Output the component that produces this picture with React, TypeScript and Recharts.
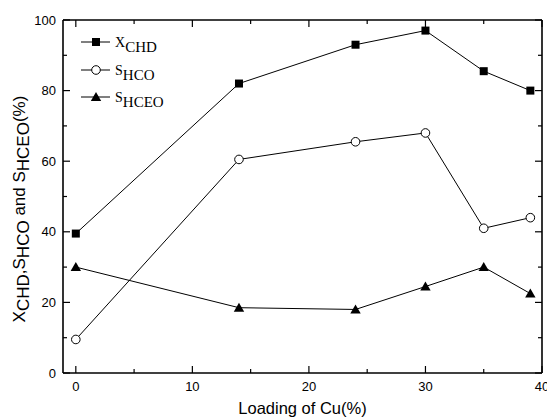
import React from 'react';
import { LineChart, Line, XAxis, YAxis } from 'recharts';

const loadings = [0, 14, 24, 30, 35, 39];
const xCHD = [39.5, 82, 93, 97, 85.5, 80];
const sHCO = [9.5, 60.5, 65.5, 68, 41, 44];
const sHCEO = [30, 18.5, 18, 24.5, 30, 22.5];

const xTicks = [0, 5, 10, 15, 20, 25, 30, 35, 40];
const yTicks = [0, 10, 20, 30, 40, 50, 60, 70, 80, 90, 100];
const xLabeled = [0, 10, 20, 30, 40];
const yLabeled = [0, 20, 40, 60, 80, 100];

const xTitle = 'Loading of Cu(%)';

const data = loadings.map((l, i) => ({ loading: l, xCHD: xCHD[i], sHCO: sHCO[i], sHCEO: sHCEO[i] }));

const SANS = '"Liberation Sans", Arial, sans-serif';
const SERIF = '"Liberation Serif", "Times New Roman", serif';

const BottomTick = (p: any) => {
  const v = p.payload.value;
  const major = xLabeled.includes(v);
  return (
    <g>
      <line x1={p.x} y1={p.y} x2={p.x} y2={p.y - (major ? 7 : 4)} stroke="#000" strokeWidth={1.2} />
      {major && (
        <text x={p.x} y={p.y + 18} textAnchor="middle" fontSize={13} fontFamily={SANS} fill="#000">
          {v}
        </text>
      )}
    </g>
  );
};

const TopTick = (p: any) => {
  const v = p.payload.value;
  const major = xLabeled.includes(v);
  return <line x1={p.x} y1={p.y} x2={p.x} y2={p.y + (major ? 7 : 4)} stroke="#000" strokeWidth={1.2} />;
};

const LeftTick = (p: any) => {
  const v = p.payload.value;
  const major = yLabeled.includes(v);
  return (
    <g>
      <line x1={p.x} y1={p.y} x2={p.x + (major ? 7 : 4)} y2={p.y} stroke="#000" strokeWidth={1.2} />
      {major && (
        <text x={p.x - 7} y={p.y + 4.5} textAnchor="end" fontSize={13} fontFamily={SANS} fill="#000">
          {v}
        </text>
      )}
    </g>
  );
};

const RightTick = (p: any) => {
  const v = p.payload.value;
  const major = yLabeled.includes(v);
  return <line x1={p.x} y1={p.y} x2={p.x - (major ? 7 : 4)} y2={p.y} stroke="#000" strokeWidth={1.2} />;
};

const SquareDot = (p: any) => (
  <rect key={`sq-${p.index}`} x={p.cx - 4} y={p.cy - 4} width={8} height={8} fill="#000" />
);
const CircleDot = (p: any) => (
  <circle key={`ci-${p.index}`} cx={p.cx} cy={p.cy} r={4.3} fill="#fff" stroke="#000" strokeWidth={1} />
);
const TriDot = (p: any) => (
  <path key={`tr-${p.index}`} d={`M${p.cx},${p.cy - 5} L${p.cx + 5.2},${p.cy + 4} L${p.cx - 5.2},${p.cy + 4} Z`} fill="#000" />
);

const legendRows = [
  { main: 'X', sub: 'CHD', y: 42, marker: 'square' },
  { main: 'S', sub: 'HCO', y: 70, marker: 'circle' },
  { main: 'S', sub: 'HCEO', y: 97, marker: 'triangle' },
];

export default function App() {
  return (
    <div style={{ position: 'absolute', left: 0, top: 0, width: 547, height: 420, background: '#fff' }}>
      <LineChart width={547} height={420} data={data} margin={{ top: 19, right: 4, left: 0, bottom: 0 }}>
        <XAxis
          dataKey="loading"
          type="number"
          domain={[-1.1, 40]}
          ticks={xTicks}
          interval={0}
          allowDataOverflow
          height={47}
          tickSize={0}
          tickMargin={0}
          tickLine={false}
          axisLine={{ stroke: '#000', strokeWidth: 1.6 }}
          tick={BottomTick}
        />
        <XAxis
          xAxisId="top"
          orientation="top"
          dataKey="loading"
          type="number"
          domain={[-1.1, 40]}
          ticks={xTicks}
          interval={0}
          allowDataOverflow
          height={1}
          tickSize={0}
          tickMargin={0}
          tickLine={false}
          axisLine={{ stroke: '#000', strokeWidth: 1.6 }}
          tick={TopTick}
        />
        <YAxis
          type="number"
          domain={[0, 100]}
          ticks={yTicks}
          interval={0}
          width={63}
          tickSize={0}
          tickMargin={0}
          tickLine={false}
          axisLine={{ stroke: '#000', strokeWidth: 1.6 }}
          tick={LeftTick}
        />
        <YAxis
          yAxisId="right"
          orientation="right"
          type="number"
          domain={[0, 100]}
          ticks={yTicks}
          interval={0}
          width={1}
          tickSize={0}
          tickMargin={0}
          tickLine={false}
          axisLine={{ stroke: '#000', strokeWidth: 1.6 }}
          tick={RightTick}
        />
        <Line
          xAxisId="top"
          yAxisId="right"
          dataKey="xCHD"
          stroke="none"
          strokeOpacity={0}
          dot={false}
          activeDot={false}
          legendType="none"
          isAnimationActive={false}
        />
        <Line dataKey="xCHD" stroke="#000" strokeWidth={1} dot={SquareDot} isAnimationActive={false} />
        <Line dataKey="sHCO" stroke="#000" strokeWidth={1} dot={CircleDot} isAnimationActive={false} />
        <Line dataKey="sHCEO" stroke="#000" strokeWidth={1} dot={TriDot} isAnimationActive={false} />
      </LineChart>
      <svg width={547} height={420} style={{ position: 'absolute', left: 0, top: 0, pointerEvents: 'none' }}>
        {legendRows.map((r) => (
          <g key={r.sub}>
            <line x1={81} y1={r.y} x2={110} y2={r.y} stroke="#000" strokeWidth={1} />
            {r.marker === 'square' && <rect x={92} y={r.y - 4} width={8} height={8} fill="#000" />}
            {r.marker === 'circle' && <circle cx={96} cy={r.y} r={4.3} fill="#fff" stroke="#000" />}
            {r.marker === 'triangle' && (
              <path d={`M96,${r.y - 5} L101.2,${r.y + 4} L90.8,${r.y + 4} Z`} fill="#000" />
            )}
            <text x={115} y={r.y + 4.5} fontFamily={SERIF} fontSize={14} fill="#000">
              {r.main}
              <tspan dy={5.5} fontSize={15}>{r.sub}</tspan>
            </text>
          </g>
        ))}
        <text
          transform="translate(25,209) rotate(-90)"
          textAnchor="middle"
          fontFamily={SANS}
          fontSize={17}
          fill="#000"
        >
          <tspan>X</tspan>
          <tspan dy={4}>CHD</tspan>
          <tspan dy={-4}>,S</tspan>
          <tspan dy={4}>HCO</tspan>
          <tspan dy={-4}> and S</tspan>
          <tspan dy={4}>HCEO</tspan>
          <tspan dy={-4}>(%)</tspan>
        </text>
        <text x={302.5} y={414} textAnchor="middle" fontFamily={SANS} fontSize={16.5} fill="#000">
          {xTitle}
        </text>
      </svg>
    </div>
  );
}
